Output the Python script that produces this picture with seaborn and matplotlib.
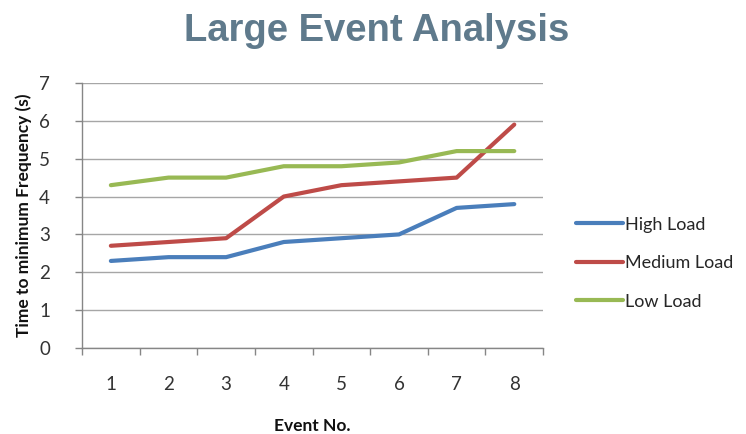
import matplotlib
matplotlib.use("Agg")
import matplotlib.pyplot as plt
import seaborn as sns
import pandas as pd

events = [1, 2, 3, 4, 5, 6, 7, 8]
high_load = [2.3, 2.4, 2.4, 2.8, 2.9, 3.0, 3.7, 3.8]
medium_load = [2.7, 2.8, 2.9, 4.0, 4.3, 4.4, 4.5, 5.9]
low_load = [4.3, 4.5, 4.5, 4.8, 4.8, 4.9, 5.2, 5.2]
series_names = ["High Load", "Medium Load", "Low Load"]
series_colors = ["#4A7EBB", "#BE4B48", "#98B954"]

sns.set_theme(style="white")
plt.rcParams["font.family"] = ["Lato", "DejaVu Sans"]

df = pd.DataFrame({
    "pos": list(range(len(events))) * 3,
    "value": high_load + medium_load + low_load,
    "series": [s for s in series_names for _ in events],
})

fig = plt.figure(figsize=(7.46, 4.34), dpi=100)
ax = fig.add_axes([0.110, 0.198, 0.618, 0.611])

sns.lineplot(data=df, x="pos", y="value", hue="series", hue_order=series_names,
             palette=series_colors, linewidth=3.0, ax=ax, legend=True)

ax.set_xlim(-0.5, len(events) - 0.5)
ax.set_ylim(0, 7)
ax.set_yticks(range(0, 8))
ax.grid(axis="y", color="#A6A6A6", linewidth=1.0)
ax.set_axisbelow(True)

# category labels centred, tick marks at category boundaries
ax.set_xticks([i - 0.5 for i in range(len(events) + 1)])
ax.set_xticklabels([])
ax.set_xticks(range(len(events)), minor=True)
ax.set_xticklabels([str(e) for e in events], minor=True, fontsize=13.5, color="#333333")
ax.tick_params(axis="x", which="major", direction="out", length=5, width=1, color="#868686", bottom=True)
ax.tick_params(axis="x", which="minor", length=0, pad=20)
ax.tick_params(axis="y", direction="out", length=5, width=1, color="#868686", left=True,
               labelsize=13.5, labelcolor="#333333", pad=26)
for lbl in ax.get_yticklabels():
    lbl.set_horizontalalignment("left")

for side in ["top", "right"]:
    ax.spines[side].set_visible(False)
for side in ["left", "bottom"]:
    ax.spines[side].set_color("#868686")
    ax.spines[side].set_linewidth(1)

ax.set_xlabel("Event No.", fontsize=12.5, fontweight="bold", labelpad=18, color="#111111")
ax.set_ylabel("Time to minimum Frequency (s)", fontsize=12.5, fontweight="bold", labelpad=5, color="#111111")

fig.suptitle("Large Event Analysis", x=0.505, y=0.97, fontsize=27.5, fontweight="bold",
             color="#5F7A8C", family=["Liberation Sans", "DejaVu Sans"])

handles, labels = ax.get_legend_handles_labels()
ax.legend(handles, labels, loc="center left", bbox_to_anchor=(1.055, 0.32), frameon=False,
          fontsize=13, handlelength=2.6, handletextpad=0.15, labelspacing=1.25,
          borderaxespad=0.0)

fig.savefig("out.png", dpi=100)
